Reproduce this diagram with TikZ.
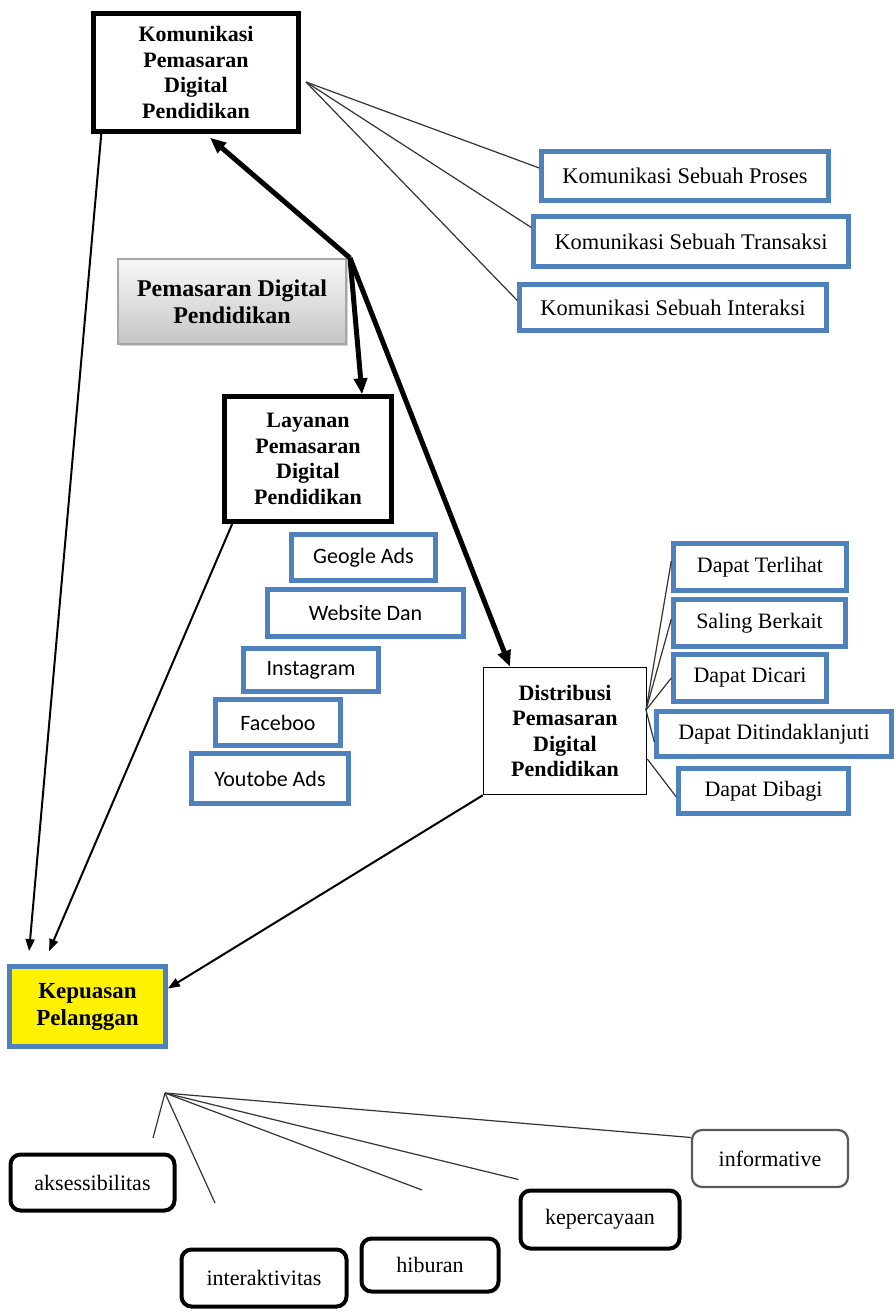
\documentclass[tikz,border=0pt]{standalone}
\usepackage{fontspec}
\setmainfont{Liberation Serif}
\newfontfamily\calfont{Carlito}
\usetikzlibrary{arrows.meta,shadows}
\definecolor{bluebd}{HTML}{4F81BD}
\begin{document}
\begin{tikzpicture}[x=0.5pt,y=-0.5pt,
  sz/.style 2 args={minimum width=#1*0.5pt, minimum height=#2*0.5pt},
  blkbox/.style={draw=black, line width=2.2pt, fill=white, inner sep=0pt, align=center,
    font=\fontsize{11}{12.8}\selectfont\bfseries},
  thinbox/.style={draw=black, line width=0.8pt, fill=white, inner sep=0pt, align=center,
    font=\fontsize{11}{12.8}\selectfont\bfseries},
  bluebox/.style={draw=bluebd, line width=2.2pt, fill=white, inner sep=0pt, align=center,
    font=\fontsize{11}{13}\selectfont},
  bigblue/.style={bluebox, font=\fontsize{11.2}{13}\selectfont},
  sansbox/.style={bluebox, font=\fontsize{11}{13}\selectfont\calfont},
  roundbox/.style={draw=black, line width=2pt, rounded corners=5pt, fill=white, inner sep=0pt,
    align=center, font=\fontsize{11}{13}\selectfont},
  graybox/.style={draw=gray!70, line width=0.8pt, top color=gray!6, bottom color=gray!45,
    inner sep=0pt, align=center, font=\fontsize{12}{13.5}\selectfont\bfseries,
    drop shadow={shadow xshift=1.2pt, shadow yshift=-1.2pt, opacity=0.35}},
  fanline/.style={draw=black!80, line width=0.6pt},
  thickarrow/.style={draw=black, line width=2.5pt, -{Triangle[length=8pt,width=6.5pt]}},
  thinarrow/.style={draw=black, line width=1pt, -{Triangle[length=6pt,width=4.5pt]}}
]
\useasboundingbox (0,0) rectangle (895,1313);

% top
\node[blkbox, sz={205}{118}] (kpd) at (196,72.5) {Komunikasi\\Pemasaran\\Digital\\Pendidikan};
\node[bigblue, sz={287}{49}] (proses) at (685,176) {Komunikasi Sebuah Proses};
\node[bigblue, sz={315}{50}] (transaksi) at (691,241.5) {Komunikasi Sebuah Transaksi};
\node[bigblue, sz={307}{46}] (interaksi) at (673,307.5) {Komunikasi Sebuah Interaksi};

\node[graybox, sz={228}{85}] (pdp) at (232,301.5) {Pemasaran Digital\\Pendidikan};

\node[blkbox, sz={167}{125}] (layanan) at (308,459) {Layanan\\Pemasaran\\Digital\\Pendidikan};

\node[sansbox, sz={144}{46}] (google) at (363.5,557.5) {Geogle Ads};
\node[sansbox, sz={196}{47}] (website) at (365.5,613) {Website Dan};
\node[sansbox, sz={135}{43}] (instagram) at (311,670) {Instagram};
\node[sansbox, sz={125}{46}] (facebook) at (278,722.5) {Faceboo};
\node[sansbox, sz={157}{50}] (youtube) at (270,778.5) {Youtobe Ads};

\node[thinbox, sz={163}{127}] (distribusi) at (565,731) {Distribusi\\Pemasaran\\Digital\\Pendidikan};

\node[bluebox, sz={173}{47}] (terlihat) at (760,567) {Dapat Terlihat};
\node[bluebox, sz={172}{47}] (saling) at (759.5,623) {Saling Berkait};
\node[bluebox, sz={153}{47}] (dicari) at (750,678) {Dapat Dicari};
\node[bluebox, sz={235}{45}] (ditindak) at (774,734) {Dapat Ditindaklanjuti};
\node[bluebox, sz={170}{45}] (dibagi) at (763.5,791) {Dapat Dibagi};

\node[draw=bluebd, line width=2.4pt, fill=yellow, inner sep=0pt, align=center,
  font=\fontsize{11.5}{13.5}\selectfont\bfseries, sz={156}{80}] (kepuasan) at (87.5,1006.5) {Kepuasan\\Pelanggan};

% bottom
\node[roundbox, sz={164}{56}] (aks) at (92.5,1182.5) {aksessibilitas};
\node[roundbox, sz={165}{57}] (inter) at (264,1278) {interaktivitas};
\node[roundbox, sz={137}{53}] (hiburan) at (430,1265) {hiburan};
\node[roundbox, sz={159}{58}] (keper) at (600,1219.5) {kepercayaan};
\node[roundbox, draw=black!65, line width=1.1pt, sz={156}{57}] (informative) at (770,1158.5) {informative};

% fan from Komunikasi box
\coordinate (kfan) at (306,82);
\draw[fanline] (kfan) -- ([yshift=4pt]proses.west);
\draw[fanline] (kfan) -- ([yshift=7pt]transaksi.west);
\draw[fanline] (kfan) -- ([yshift=3.5pt]interaksi.west);

% thick arrows
\coordinate (hub) at (350,258);
\draw[thickarrow] (hub) -- ([xshift=7pt,yshift=-2pt]kpd.south);
\draw[thickarrow] (hub) -- ([xshift=27pt]layanan.north);
\draw[thickarrow] (hub) -- ([xshift=-27.5pt]distribusi.north);

% thin arrows to Kepuasan
\draw[thinarrow] ([xshift=5pt]kpd.south west) -- ([shift={(11pt,6.5pt)}]kepuasan.north west);
\draw[thinarrow] ([xshift=5pt]layanan.south west) -- ([shift={(21pt,6.5pt)}]kepuasan.north west);
\draw[thinarrow] (distribusi.south west) -- ([yshift=9pt]kepuasan.east);

% fan from Distribusi
\coordinate (dfan) at (646,710);
\draw[fanline] (dfan) -- ([yshift=3pt]terlihat.west);
\draw[fanline] (dfan) -- ([yshift=2pt]saling.west);
\draw[fanline] (dfan) -- (dicari.west);
\draw[fanline] (dfan) -- ([yshift=-4pt]ditindak.west);
\draw[fanline] ([yshift=-14pt]distribusi.east) -- ([yshift=-3pt]dibagi.west);

% fan at bottom
\coordinate (bfan) at (165,1093);
\coordinate (e1) at (153,1138);
\coordinate (e2) at (215,1203);
\coordinate (e3) at (422,1190);
\draw[fanline] (bfan) -- (e1);
\draw[fanline] (bfan) -- (e2);
\draw[fanline] (bfan) -- (e3);
\draw[fanline] (bfan) -- ([yshift=4.5pt]keper.north west);
\draw[fanline] (bfan) -- ([yshift=10.5pt]informative.west);
\end{tikzpicture}
\end{document}
